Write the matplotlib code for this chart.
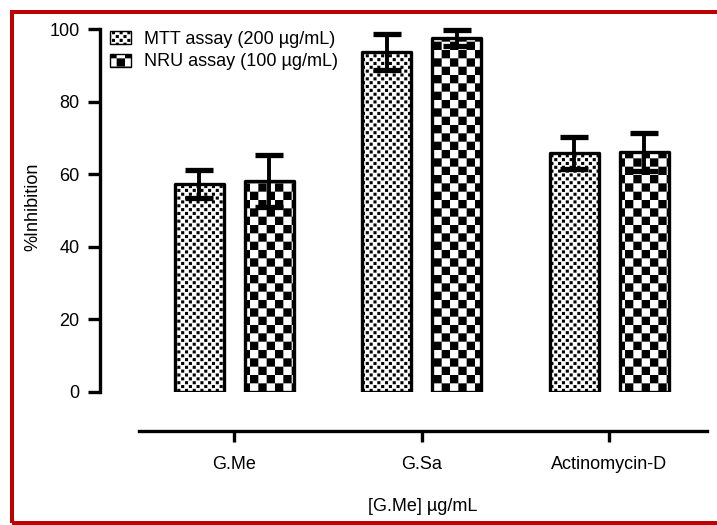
import numpy as np
import matplotlib
matplotlib.use("Agg")
import matplotlib.pyplot as plt
import matplotlib.hatch as mhatch
from matplotlib.path import Path
from matplotlib.patches import Rectangle, Patch

# ---------------- data ----------------
categories = ["G.Me", "G.Sa", "Actinomycin-D"]
series_names = ["MTT assay (200 µg/mL)", "NRU assay (100 µg/mL)"]
mtt_values = [57.3, 93.7, 65.8]
mtt_errors = [3.8, 4.9, 4.4]
nru_values = [58.1, 97.5, 66.1]
nru_errors = [7.2, 2.3, 5.2]
y_ticks = [0, 20, 40, 60, 80, 100]
x_label = "[G.Me] µg/mL"
y_label = "%Inhibition"

# square fill fraction of each checker cell, by cells-per-tile
CHECKER_SHRINK = {26: 0.8}


# ---------------- checkerboard hatch ----------------
class CheckerHatch(mhatch.HatchPatternBase):
    def __init__(self, hatch, density):
        self.n = 2 * hatch.count('.')
        self.num_vertices = (self.n * self.n // 2) * 5 if self.n else 0

    def set_vertices_and_codes(self, vertices, codes):
        n = self.n
        s = 1.0 / n
        f = CHECKER_SHRINK.get(n, 1.0)
        m = s * (1 - f) / 2
        k = 0
        for i in range(n):
            for j in range(n):
                if (i + j) % 2 == 0:
                    x0, y0 = i * s + m, j * s + m
                    d = s * f
                    vertices[k:k + 5] = [(x0, y0), (x0 + d, y0), (x0 + d, y0 + d),
                                         (x0, y0 + d), (x0, y0)]
                    codes[k:k + 5] = [Path.MOVETO, Path.LINETO, Path.LINETO,
                                      Path.LINETO, Path.CLOSEPOLY]
                    k += 5


mhatch._hatch_types = [t for t in mhatch._hatch_types
                       if t is not mhatch.SmallFilledCircles] + [CheckerHatch]

HATCH_FINE = '.' * 13
HATCH_COARSE = '.' * 6

plt.rcParams['font.family'] = ['Liberation Sans', 'DejaVu Sans']
plt.rcParams['hatch.linewidth'] = 0.01
plt.rcParams['hatch.color'] = 'black'

DPI = 100
W, H = 717, 525
fig = plt.figure(figsize=(W / DPI, H / DPI), dpi=DPI)

# axes placement in pixels
ax_left, ax_right = 100, 710
ax_bottom_px, px_per_unit = 392, 3.63
ymax = 103
ax_top_px = ax_bottom_px - ymax * px_per_unit
ax = fig.add_axes([ax_left / W, (H - ax_bottom_px) / H,
                   (ax_right - ax_left) / W, (ax_bottom_px - ax_top_px) / H])

group_px0, group_step = 234, 187.5
xlim = ((ax_left - group_px0) / group_step, (ax_right - group_px0) / group_step)
bar_w = 49 / group_step
offset = 35 / group_step

x = np.arange(len(categories))
lw = 2.4
ax.bar(x - offset, mtt_values, bar_w, facecolor='white', edgecolor='black',
       linewidth=lw, hatch=HATCH_FINE, joinstyle='round', zorder=2)
ax.bar(x + offset, nru_values, bar_w, facecolor='white', edgecolor='black',
       linewidth=lw, hatch=HATCH_COARSE, joinstyle='round', zorder=2)

eb_kw = dict(fmt='none', ecolor='black', elinewidth=2.8, capsize=10,
             capthick=3.8, zorder=3, clip_on=False)
ax.errorbar(x - offset, mtt_values, yerr=mtt_errors, **eb_kw)
ax.errorbar(x + offset, nru_values, yerr=nru_errors, **eb_kw)

ax.set_xlim(*xlim)
ax.set_ylim(0, ymax)

for s in ('top', 'right'):
    ax.spines[s].set_visible(False)
ax.spines['left'].set_bounds(0, 100)
ax.spines['left'].set_linewidth(2.4)
ax.spines['bottom'].set_linewidth(2.4)
ax.spines['bottom'].set_position(('outward', 39 * 72 / DPI))
ax.spines['bottom'].set_bounds((139 - group_px0) / group_step,
                               (707 - group_px0) / group_step)
ax.spines['left'].set_capstyle('projecting')

ax.set_yticks(y_ticks)
ax.set_xticks(x)
ax.set_xticklabels(categories)
ax.tick_params(axis='y', direction='out', length=8.6, width=2.4, pad=6,
               labelsize=13, colors='black')
ax.tick_params(axis='x', direction='out', length=8, width=2.4, pad=10,
               labelsize=13, colors='black')

ax.set_xlabel(x_label, fontsize=13)
ax.xaxis.set_label_coords((423 - ax_left) / (ax_right - ax_left), -0.283)
ax.set_ylabel(y_label, fontsize=13, va='center')
ax.yaxis.set_label_coords((33 - ax_left) / (ax_right - ax_left),
                          (ax_bottom_px - 207) / (ax_bottom_px - ax_top_px))

handles = [Patch(facecolor='white', edgecolor='black', linewidth=1.0, hatch=HATCH_FINE),
           Patch(facecolor='white', edgecolor='black', linewidth=1.0, hatch=HATCH_COARSE)]
leg = ax.legend(handles, series_names, loc='upper left',
                bbox_to_anchor=(110 / W, 1 - 31 / H),
                bbox_transform=fig.transFigure, frameon=False, fontsize=13,
                borderpad=0, borderaxespad=0, handlelength=1.15,
                handleheight=0.72, handletextpad=0.75, labelspacing=0.3)

# red frame (right side lies beyond the image edge)
fig.patches.append(Rectangle((12 / W, 2 / H), 1.1, (H - 12 - 2) / H,
                             transform=fig.transFigure, fill=False,
                             edgecolor='#C00000', linewidth=4 * 72 / DPI,
                             zorder=10))

fig.savefig('out.png', dpi=DPI)
